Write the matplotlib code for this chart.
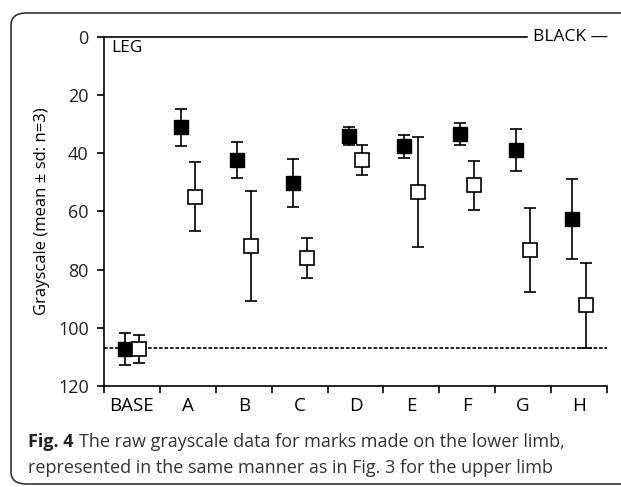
import matplotlib
matplotlib.use('Agg')
import matplotlib.pyplot as plt
from matplotlib.patches import FancyBboxPatch
import numpy as np

plt.rcParams['font.family'] = ['Open Sans', 'DejaVu Sans']

########### data ################
categories = ['BASE', 'A', 'B', 'C', 'D', 'E', 'F', 'G', 'H']
black_mean = [107.4, 31.1, 42.5, 50.2, 34.1, 37.6, 33.4, 39.0, 62.6]
black_sd = [5.5, 6.3, 6.2, 8.2, 3.1, 4.0, 3.7, 7.2, 13.6]
white_mean = [107.2, 55.0, 71.8, 76.0, 42.4, 53.3, 51.1, 73.3, 92.3]
white_sd = [4.8, 11.8, 18.9, 7.0, 5.1, 19.0, 8.3, 14.3, 14.6]
base_level = 107.1

W, H = 621, 487
fig = plt.figure(figsize=(W / 100, H / 100), dpi=100)

# rounded frame around figure + caption (runs off the right edge)
frame = FancyBboxPatch((11/W, 3/H), 1.2, 471/H,
                       boxstyle='round,pad=0,rounding_size=0.025',
                       transform=fig.transFigure, fill=False,
                       edgecolor='#333333', linewidth=1.2)
fig.patches.append(frame)

ax = fig.add_axes([104/W, 1 - 386/H, 503/W, 349.3/H])

x = np.arange(len(categories))
off = 0.125

ax.errorbar(x - off, black_mean, yerr=black_sd, fmt='s', color='black',
            markersize=10.5, markerfacecolor='black', markeredgecolor='black',
            ecolor='black', elinewidth=1.2, capsize=4, capthick=1.2, zorder=3)
ax.errorbar(x + off, white_mean, yerr=white_sd, fmt='s', color='black',
            markersize=10, markerfacecolor='white', markeredgecolor='black',
            markeredgewidth=1.2, ecolor='black', elinewidth=1.2, capsize=4,
            capthick=1.2, zorder=3)

ax.axhline(base_level, color='black', linestyle=(0, (2.2, 1.1)), linewidth=1.2, zorder=1)

ax.set_xlim(-0.5, len(categories) - 0.5)
ax.set_ylim(120, 0)
ax.set_yticks([0, 20, 40, 60, 80, 100, 120])
ax.set_xticks(np.arange(-0.5, len(categories)), labels=[])
ax.set_xticks(x, labels=categories, minor=True)
ax.tick_params(axis='x', which='minor', length=0, labelsize=13.5, pad=8)
ax.tick_params(axis='x', which='major', length=5, width=1.2)
ax.tick_params(axis='y', length=5, width=1.2, labelsize=13, pad=6)
for lbl in ax.get_yticklabels():
    lbl.set_color('#222222')

ax.spines['top'].set_visible(False)
ax.spines['right'].set_visible(False)
for s in ['left', 'bottom']:
    ax.spines[s].set_linewidth(1.2)

# top line with its label
ax.plot([0, (527 - 104) / 503], [1, 1], transform=ax.transAxes,
        color='black', linewidth=1.2, clip_on=False)
ax.text(1.002, 1.0, 'BLACK \u2014', transform=ax.transAxes, ha='right',
        va='center', fontsize=12.5)
ax.text(0.014, 0.99, 'LEG', transform=ax.transAxes, ha='left', va='top',
        fontsize=12.5)

ax.set_ylabel('Grayscale (mean \u00b1 sd: n=3)', fontsize=12, labelpad=6)

# caption
cap_col = '#333333'
bold = fig.text(28/W, 1 - 442/H, 'Fig. 4', fontsize=13, fontweight='bold',
                va='center', color='#222222')
fig.canvas.draw()
bb = bold.get_window_extent()
fig.text((bb.x1 + 6) / W, 1 - 442/H,
         'The raw grayscale data for marks made on the lower limb,',
         fontsize=13, va='center', color=cap_col)
fig.text(28/W, 1 - 468/H,
         'represented in the same manner as in Fig. 3 for the upper limb',
         fontsize=13, va='center', color=cap_col)

fig.savefig('out.png', dpi=100)
